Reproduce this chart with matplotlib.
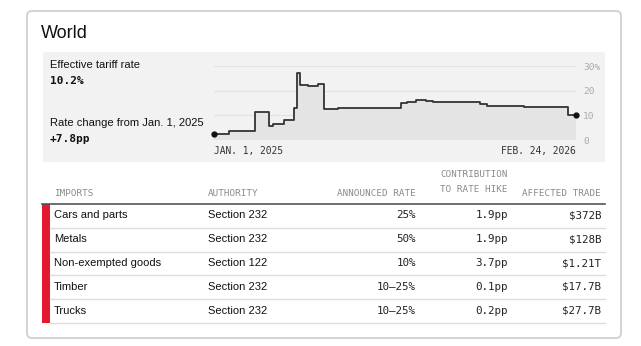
import datetime as dt
import matplotlib
matplotlib.use('Agg')
import matplotlib.pyplot as plt
import matplotlib.dates as mdates
from matplotlib.patches import FancyBboxPatch, Rectangle

SANS = 'Liberation Sans'
MONO = 'DejaVu Sans Mono'

# effective tariff rate (step series)
dates = ['2025-01-01', '2025-01-18', '2025-02-18', '2025-03-06', '2025-03-10',
         '2025-03-23', '2025-04-04', '2025-04-07', '2025-04-11', '2025-04-20',
         '2025-05-01', '2025-05-08', '2025-05-25', '2025-08-06', '2025-08-12',
         '2025-08-23', '2025-09-03', '2025-09-12', '2025-11-05', '2025-11-13',
         '2025-12-26', '2026-02-15', '2026-02-24']
rates = [2.4, 3.6, 11.3, 5.8, 6.6, 8.1, 13.1, 27.3, 22.4, 21.8, 22.7, 12.4,
         13.0, 15.1, 15.5, 16.1, 15.7, 15.4, 14.5, 13.9, 13.4, 10.2, 10.2]
y_ticks = [0, 10, 20, 30]
y_ticklabels = ['0', '10', '20', '30%']
x_ticklabels = ['JAN. 1, 2025', 'FEB. 24, 2026']

current_rate = '10.2%'
rate_change = '+7.8pp'

# table
headers = ['IMPORTS', 'AUTHORITY', 'ANNOUNCED RATE', 'CONTRIBUTION\nTO RATE HIKE', 'AFFECTED TRADE']
imports = ['Cars and parts', 'Metals', 'Non-exempted goods', 'Timber', 'Trucks']
authority = ['Section 232', 'Section 232', 'Section 122', 'Section 232', 'Section 232']
announced = ['25%', '50%', '10%', '10\u201325%', '10\u201325%']
contribution = ['1.9pp', '1.9pp', '3.7pp', '0.1pp', '0.2pp']
affected = ['$372B', '$128B', '$1.21T', '$17.7B', '$27.7B']

W, H = 641, 346
fig = plt.figure(figsize=(W / 100, H / 100), dpi=100)
fig.patch.set_facecolor('white')

# background axes in pixel coordinates
bg = fig.add_axes([0, 0, 1, 1])
bg.set_xlim(0, W)
bg.set_ylim(H, 0)
bg.axis('off')

bg.add_patch(FancyBboxPatch((27, 11), 594, 327, boxstyle='round,pad=0,rounding_size=5',
                            fc='white', ec='#d0d0d0', lw=1.3))
bg.add_patch(Rectangle((43, 52), 562, 110, fc='#f2f2f2', ec='none'))

bg.text(41, 34, 'World', fontsize=13, family=SANS, color='#111', va='center', ha='left')
bg.text(50, 64.5, 'Effective tariff rate', fontsize=8, family=SANS, color='#111', va='center')
bg.text(50, 81, current_rate, fontsize=8, family=MONO, weight='bold', color='#111', va='center')
bg.text(50, 123.5, 'Rate change from Jan. 1, 2025', fontsize=8, family=SANS, color='#111', va='center')
bg.text(50, 138.5, rate_change, fontsize=8, family=MONO, weight='bold', color='#111', va='center')

# line chart
ax = fig.add_axes([214 / W, (H - 140) / H, 362 / W, 74 / H])
ax.set_facecolor('none')
x = [mdates.date2num(dt.date.fromisoformat(d)) for d in dates]
for t in y_ticks[1:]:
    ax.axhline(t, color='#e2e2e2', lw=0.8, zorder=0)
ax.fill_between(x, rates, 0, step='post', color='#e4e4e4', lw=0, zorder=1)
ax.step(x, rates, where='post', color='#333333', lw=1.3, zorder=2)
ax.plot([x[0], x[-1]], [rates[0], rates[-1]], 'o', color='#111', ms=3.5, zorder=3, clip_on=False)
ax.set_xlim(x[0], x[-1])
ax.set_ylim(0, 30)
for s in ax.spines.values():
    s.set_visible(False)
ax.yaxis.tick_right()
ax.set_yticks(y_ticks)
ax.set_yticklabels(y_ticklabels, fontsize=6.8, family=MONO, color='#aaaaaa')
ax.tick_params(axis='y', length=0, pad=5)
ax.set_xticks([x[0], x[-1]])
ax.set_xticklabels(x_ticklabels, fontsize=6.9, family=MONO, color='#333333')
ax.tick_params(axis='x', length=0, pad=4)
xl = ax.get_xticklabels()
xl[0].set_ha('left')
xl[1].set_ha('right')

# table
hdr_x = [54, 208, 416, 508, 601]
hdr_ha = ['left', 'left', 'right', 'right', 'right']
for i, h in enumerate(headers):
    bg.text(hdr_x[i], 193.5, h, fontsize=6.7, family=MONO, color='#8a8a8a',
            ha=hdr_ha[i], va='bottom' if '\n' in h else 'center',
            linespacing=1.75)
top = 204
row_h = 23.8
bg.plot([42, 605], [top, top], color='#555555', lw=1.2)
bg.add_patch(Rectangle((42, top), 8, row_h * len(imports), fc='#e5192e', ec='none'))
for i in range(len(imports)):
    yc = top + row_h * (i + 0.48)
    bg.text(54, yc, imports[i], fontsize=8, family=SANS, color='#111', va='center')
    bg.text(208, yc, authority[i], fontsize=8, family=SANS, color='#111', va='center')
    bg.text(416, yc, announced[i], fontsize=7.8, family=MONO, color='#222', va='center', ha='right')
    bg.text(508, yc, contribution[i], fontsize=7.8, family=MONO, color='#222', va='center', ha='right')
    bg.text(601, yc, affected[i], fontsize=7.8, family=MONO, color='#222', va='center', ha='right')
    yl = top + row_h * (i + 1)
    bg.plot([50, 605], [yl, yl], color='#dddddd', lw=1)

fig.savefig('out.png', dpi=100, facecolor='white')
